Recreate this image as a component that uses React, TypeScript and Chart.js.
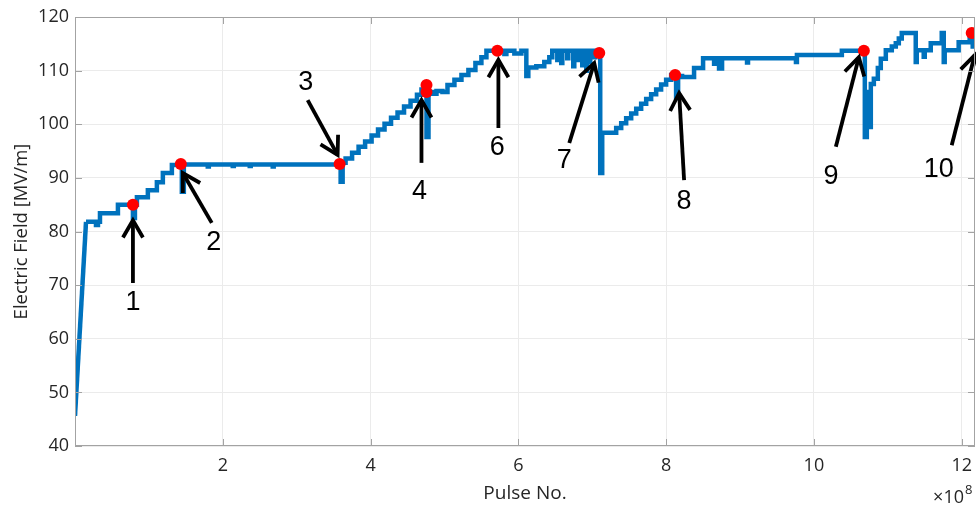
import { useEffect, useRef } from 'react';
import { Chart, registerables } from 'chart.js';

Chart.register(...registerables);

// Pulse number in units of 1e8, electric field in MV/m
const riseX = [0.0, 0.149];
const riseY = [45.6, 81.8];

// step list: at stepX[i] the field level becomes stepY[i]
const stepX = [
  0.149, 0.284, 0.311, 0.338, 0.581, 0.784, 0.811, 0.838, 0.986, 1.108, 1.189, 1.311,
  1.446, 1.473, 1.797, 1.811, 2.135, 2.149, 2.365, 2.378, 2.676, 2.689,
  3.595, 3.622, 3.662, 3.750, 3.838, 3.926, 4.014, 4.101, 4.189, 4.277, 4.365, 4.453,
  4.541, 4.628, 4.689, 4.730, 4.757, 4.784, 4.838, 4.892, 4.973, 5.041, 5.135, 5.230,
  5.324, 5.419, 5.500, 5.568, 5.811, 5.838, 5.946, 6.041, 6.108, 6.135, 6.243, 6.351,
  6.419, 6.459, 6.527, 6.541, 6.581, 6.595, 6.662, 6.676, 6.743, 6.757, 6.797, 6.811,
  6.865, 6.878, 6.919, 6.932, 6.959, 6.973, 7.027, 7.041, 7.108, 7.135, 7.324, 7.392,
  7.459, 7.527, 7.595, 7.662, 7.730, 7.797, 7.865, 7.932, 8.000, 8.068, 8.135, 8.162,
  8.216, 8.378, 8.500, 8.649, 8.662, 8.716, 8.757, 9.095, 9.108, 9.757, 9.770, 10.378,
  10.689, 10.716, 10.743, 10.770, 10.811, 10.865, 10.905, 10.973, 11.054, 11.108, 11.149,
  11.189, 11.378, 11.392, 11.486, 11.500, 11.581, 11.730, 11.757, 11.770, 11.959, 12.108,
  12.149, 12.170, 12.300,
];
const stepY = [
  81.8, 81.2, 81.8, 83.4, 85.0, 82.5, 85.0, 86.4, 87.7, 89.2, 90.9, 92.4,
  87.4, 92.5, 92.1, 92.5, 92.2, 92.5, 92.2, 92.5, 92.1, 92.5,
  89.3, 92.8, 93.6, 94.7, 95.8, 96.8, 97.9, 99.0, 100.1, 101.2, 102.2, 103.3,
  104.4, 105.5, 106.5, 107.3, 97.6, 106.0, 105.7, 106.2, 106.0, 107.3, 108.3, 109.2,
  110.1, 111.4, 112.5, 113.7, 113.1, 113.7, 113.2, 113.7, 109.0, 110.6, 110.8, 111.6,
  112.5, 113.7, 112.0, 113.7, 111.4, 113.7, 112.3, 113.7, 110.8, 113.7, 112.0, 113.7,
  111.0, 113.7, 110.0, 113.7, 111.6, 113.7, 112.5, 113.5, 90.9, 98.4, 99.3, 100.2,
  101.1, 102.0, 102.9, 103.8, 104.7, 105.6, 106.5, 107.4, 108.3, 109.2, 104.9, 109.0,
  108.8, 110.5, 112.3, 111.3, 112.3, 110.4, 112.3, 111.5, 112.3, 111.6, 112.9, 113.7,
  97.6, 106.0, 99.5, 107.5, 108.5, 110.5, 112.2, 113.8, 114.5, 115.1, 116.0,
  117.0, 111.6, 113.8, 112.6, 113.8, 115.1, 117.0, 111.6, 113.8, 115.3, 117.0,
  114.5, 116.0, 116.0,
];

const markerX = [0.784, 1.432, 3.581, 4.757, 4.757, 5.716, 7.095, 8.122, 10.676, 12.135];
const markerY = [85.0, 92.6, 92.6, 107.3, 106.0, 113.7, 113.3, 109.2, 113.7, 117.0];

const xTicks = [2, 4, 6, 8, 10, 12];
const yTicks = [40, 50, 60, 70, 80, 90, 100, 110, 120];

const arrowLabels = ['1', '2', '3', '4', '6', '7', '8', '9', '10'];
const arrowTailX = [0.784, 1.851, 3.149, 4.689, 5.730, 6.689, 8.243, 10.297, 11.865];
const arrowTailY = [70.4, 81.6, 104.5, 92.8, 99.3, 96.5, 89.6, 95.8, 96.1];
const arrowTipX = [0.784, 1.459, 3.554, 4.689, 5.730, 7.027, 8.176, 10.608, 12.176];
const arrowTipY = [82.1, 90.9, 94.3, 104.5, 112.0, 111.4, 105.8, 112.5, 112.9];
const labelX = [0.784, 1.878, 3.122, 4.662, 5.716, 6.622, 8.243, 10.230, 11.689];
const labelY = [66.7, 78.0, 107.7, 87.4, 95.6, 93.3, 85.5, 90.2, 91.5];

const FONT = "'Open Sans', 'Noto Sans', sans-serif";
const TEXT = '#262626';
const LINE = '#0072BD';

const boxPlugin = {
  id: 'boxPlugin',
  afterDraw(chart: any) {
    const { ctx, chartArea } = chart;
    const { left, right, top, bottom } = chartArea;
    const xs = chart.scales.x;
    const ys = chart.scales.y;
    ctx.save();
    ctx.strokeStyle = '#a3a3a3';
    ctx.lineWidth = 1;
    ctx.strokeRect(Math.round(left) + 0.5, Math.round(top) + 0.5, Math.round(right - left) - 1, Math.round(bottom - top) - 1);
    ctx.beginPath();
    const tl = 7;
    xTicks.forEach((v) => {
      const px = Math.round(xs.getPixelForValue(v)) + 0.5;
      ctx.moveTo(px, bottom);
      ctx.lineTo(px, bottom - tl);
      ctx.moveTo(px, top);
      ctx.lineTo(px, top + tl);
    });
    yTicks.forEach((v) => {
      const py = Math.round(ys.getPixelForValue(v)) + 0.5;
      ctx.moveTo(left, py);
      ctx.lineTo(left + tl, py);
      ctx.moveTo(right, py);
      ctx.lineTo(right - tl, py);
    });
    ctx.stroke();
    // exponent label
    ctx.fillStyle = TEXT;
    ctx.textAlign = 'right';
    ctx.textBaseline = 'alphabetic';
    ctx.font = `18px ${FONT}`;
    ctx.fillText('\u00d710', 964, 503);
    ctx.textAlign = 'left';
    ctx.font = `13px ${FONT}`;
    ctx.fillText('8', 965, 494);
    ctx.restore();
  },
};

const arrowPlugin = {
  id: 'arrowPlugin',
  afterDatasetsDraw(chart: any) {
    const { ctx } = chart;
    const xs = chart.scales.x;
    const ys = chart.scales.y;
    ctx.save();
    ctx.strokeStyle = '#000';
    ctx.fillStyle = '#000';
    ctx.lineWidth = 3.8;
    ctx.lineCap = 'butt';
    ctx.lineJoin = 'miter';
    arrowLabels.forEach((lab, i) => {
      const x0 = xs.getPixelForValue(arrowTailX[i]);
      const y0 = ys.getPixelForValue(arrowTailY[i]);
      const x1 = xs.getPixelForValue(arrowTipX[i]);
      const y1 = ys.getPixelForValue(arrowTipY[i]);
      const ang = Math.atan2(y1 - y0, x1 - x0);
      const hl = 20;
      const ha = Math.PI / 6;
      ctx.beginPath();
      ctx.moveTo(x0, y0);
      ctx.lineTo(x1, y1);
      ctx.stroke();
      ctx.beginPath();
      ctx.moveTo(x1 - hl * Math.cos(ang - ha), y1 - hl * Math.sin(ang - ha));
      ctx.lineTo(x1, y1);
      ctx.lineTo(x1 - hl * Math.cos(ang + ha), y1 - hl * Math.sin(ang + ha));
      ctx.stroke();
      ctx.font = "27px 'Liberation Sans', Arial, sans-serif";
      ctx.textAlign = 'center';
      ctx.textBaseline = 'middle';
      ctx.fillText(lab, xs.getPixelForValue(labelX[i]), ys.getPixelForValue(labelY[i]));
    });
    ctx.restore();
  },
};

export default function App() {
  const ref = useRef<HTMLCanvasElement | null>(null);
  useEffect(() => {
    document.body.style.margin = '0';
    if (!ref.current) return;
    const chart = new Chart(ref.current, {
      type: 'line',
      data: {
        datasets: [
          {
            data: riseX.map((x, i) => ({ x, y: riseY[i] })),
            borderColor: LINE,
            borderWidth: 4.5,
            pointRadius: 0,
            fill: false,
            order: 3,
          },
          {
            data: stepX.map((x, i) => ({ x, y: stepY[i] })),
            borderColor: LINE,
            borderWidth: 4.5,
            pointRadius: 0,
            stepped: 'before',
            fill: false,
            order: 2,
          },
          {
            data: markerX.map((x, i) => ({ x, y: markerY[i] })),
            showLine: false,
            pointRadius: 6,
            pointBackgroundColor: '#ff0000',
            pointBorderWidth: 0,
            borderColor: '#ff0000',
            order: 1,
          },
        ],
      },
      options: {
        animation: false,
        responsive: false,
        maintainAspectRatio: false,
        devicePixelRatio: 1,
        layout: { autoPadding: false, padding: { top: 17, right: 1, left: 0, bottom: 0 } },
        plugins: { legend: { display: false }, tooltip: { enabled: false } },
        scales: {
          x: {
            type: 'linear',
            min: 0,
            max: 12.18,
            afterFit: (s: any) => { s.height = 60; s.paddingLeft = 0; s.paddingRight = 0; },
            afterBuildTicks: (s: any) => { s.ticks = xTicks.map((v) => ({ value: v })); },
            grid: { color: '#ebebeb', drawTicks: false },
            border: { display: false },
            ticks: { padding: 9, color: TEXT, font: { family: FONT, size: 18 }, maxRotation: 0, autoSkip: false, callback: (v: any) => String(v) },
            title: { display: true, text: 'Pulse No.', color: TEXT, font: { family: FONT, size: 19 }, padding: { top: 0, bottom: 1 } },
          },
          y: {
            min: 40,
            max: 120,
            afterFit: (s: any) => { s.width = 75; s.paddingTop = 0; s.paddingBottom = 0; },
            afterBuildTicks: (s: any) => { s.ticks = yTicks.map((v) => ({ value: v })); },
            grid: { color: '#ebebeb', drawTicks: false },
            border: { display: false },
            ticks: { padding: 6, color: TEXT, font: { family: FONT, size: 18 }, callback: (v: any) => String(v) },
            title: { display: true, text: 'Electric Field [MV/m]', color: TEXT, font: { family: FONT, size: 18.5 }, padding: { top: 11, bottom: 0 } },
          },
        },
      },
      plugins: [boxPlugin, arrowPlugin],
    });
    return () => chart.destroy();
  }, []);
  return (
    <div style={{ width: 976, height: 506 }}>
      <canvas ref={ref} width={976} height={506} style={{ display: 'block' }} />
    </div>
  );
}
